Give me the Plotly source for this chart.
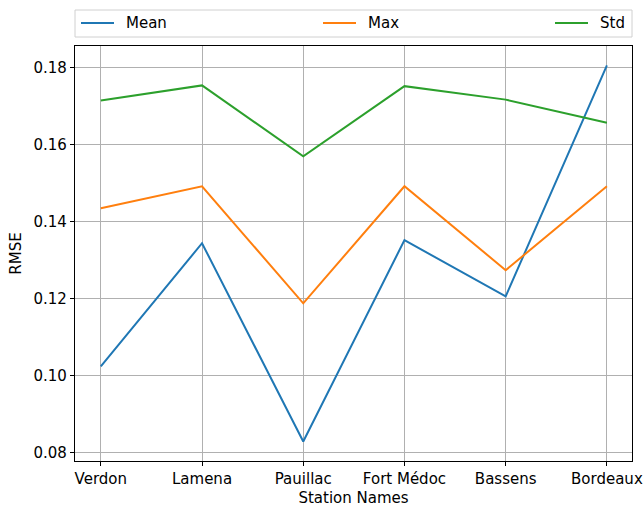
import plotly.graph_objects as go

stations = ["Verdon", "Lamena", "Pauillac", "Fort Médoc", "Bassens", "Bordeaux"]
mean_vals = [0.1023, 0.1343, 0.0828, 0.1351, 0.1205, 0.1805]
max_vals = [0.1434, 0.1491, 0.1187, 0.1491, 0.1273, 0.1491]
std_vals = [0.1714, 0.1753, 0.1569, 0.1751, 0.1716, 0.1656]
y_ticks = [0.08, 0.10, 0.12, 0.14, 0.16, 0.18]

colors = ["#1f77b4", "#ff7f0e", "#2ca02c"]
names = ["Mean", "Max", "Std"]
series = [mean_vals, max_vals, std_vals]

W, H = 643, 507
L, R, T, B = 75, 11, 46, 46
pw, ph = W - L - R, H - T - B

def px_x(x):
    return (x - L) / pw

def px_y(y):
    return (H - B - y) / ph

fig = go.Figure()
for n, s, c in zip(names, series, colors):
    fig.add_trace(go.Scatter(x=list(range(len(stations))), y=s, mode="lines", name=n,
                             line=dict(color=c, width=2), showlegend=False))

font = dict(family="DejaVu Sans", size=15, color="black")
axis_common = dict(showline=True, linecolor="black", linewidth=1.2, mirror=True,
                   ticks="outside", ticklen=4, tickcolor="black", tickwidth=1,
                   showgrid=True, gridcolor="#b0b0b0", gridwidth=1, zeroline=False,
                   tickfont=font, automargin=False)

shapes = [dict(type="rect", xref="paper", yref="paper", x0=0, x1=1,
               y0=px_y(37), y1=px_y(10), line=dict(color="#d0d0d0", width=1),
               fillcolor="rgba(0,0,0,0)")]
annotations = []
leg_x = [81, 323, 555]
for n, c, lx in zip(names, colors, leg_x):
    shapes.append(dict(type="line", xref="paper", yref="paper",
                       x0=px_x(lx), x1=px_x(lx + 33), y0=px_y(23), y1=px_y(23),
                       line=dict(color=c, width=2)))
    annotations.append(dict(text=n, xref="paper", yref="paper", x=px_x(lx + 43),
                            y=px_y(23), xanchor="left", yanchor="middle",
                            showarrow=False, font=font))

fig.update_layout(
    width=W, height=H,
    margin=dict(l=L, r=R, t=T, b=B),
    paper_bgcolor="white", plot_bgcolor="white",
    font=font, showlegend=False,
    xaxis=dict(axis_common, tickmode="array", tickvals=list(range(len(stations))),
               ticktext=stations, range=[-0.255, 5.248],
               title=dict(text="Station Names", font=font, standoff=7)),
    yaxis=dict(axis_common, tickmode="array", tickvals=y_ticks,
               ticktext=[f"{v:.2f}" for v in y_ticks], range=[0.07774, 0.18553],
               title=dict(text="RMSE", font=font, standoff=8)),
    shapes=shapes, annotations=annotations,
)

fig.write_html("out.html", config={"displayModeBar": False},
               post_script="document.body.style.margin='0';")
